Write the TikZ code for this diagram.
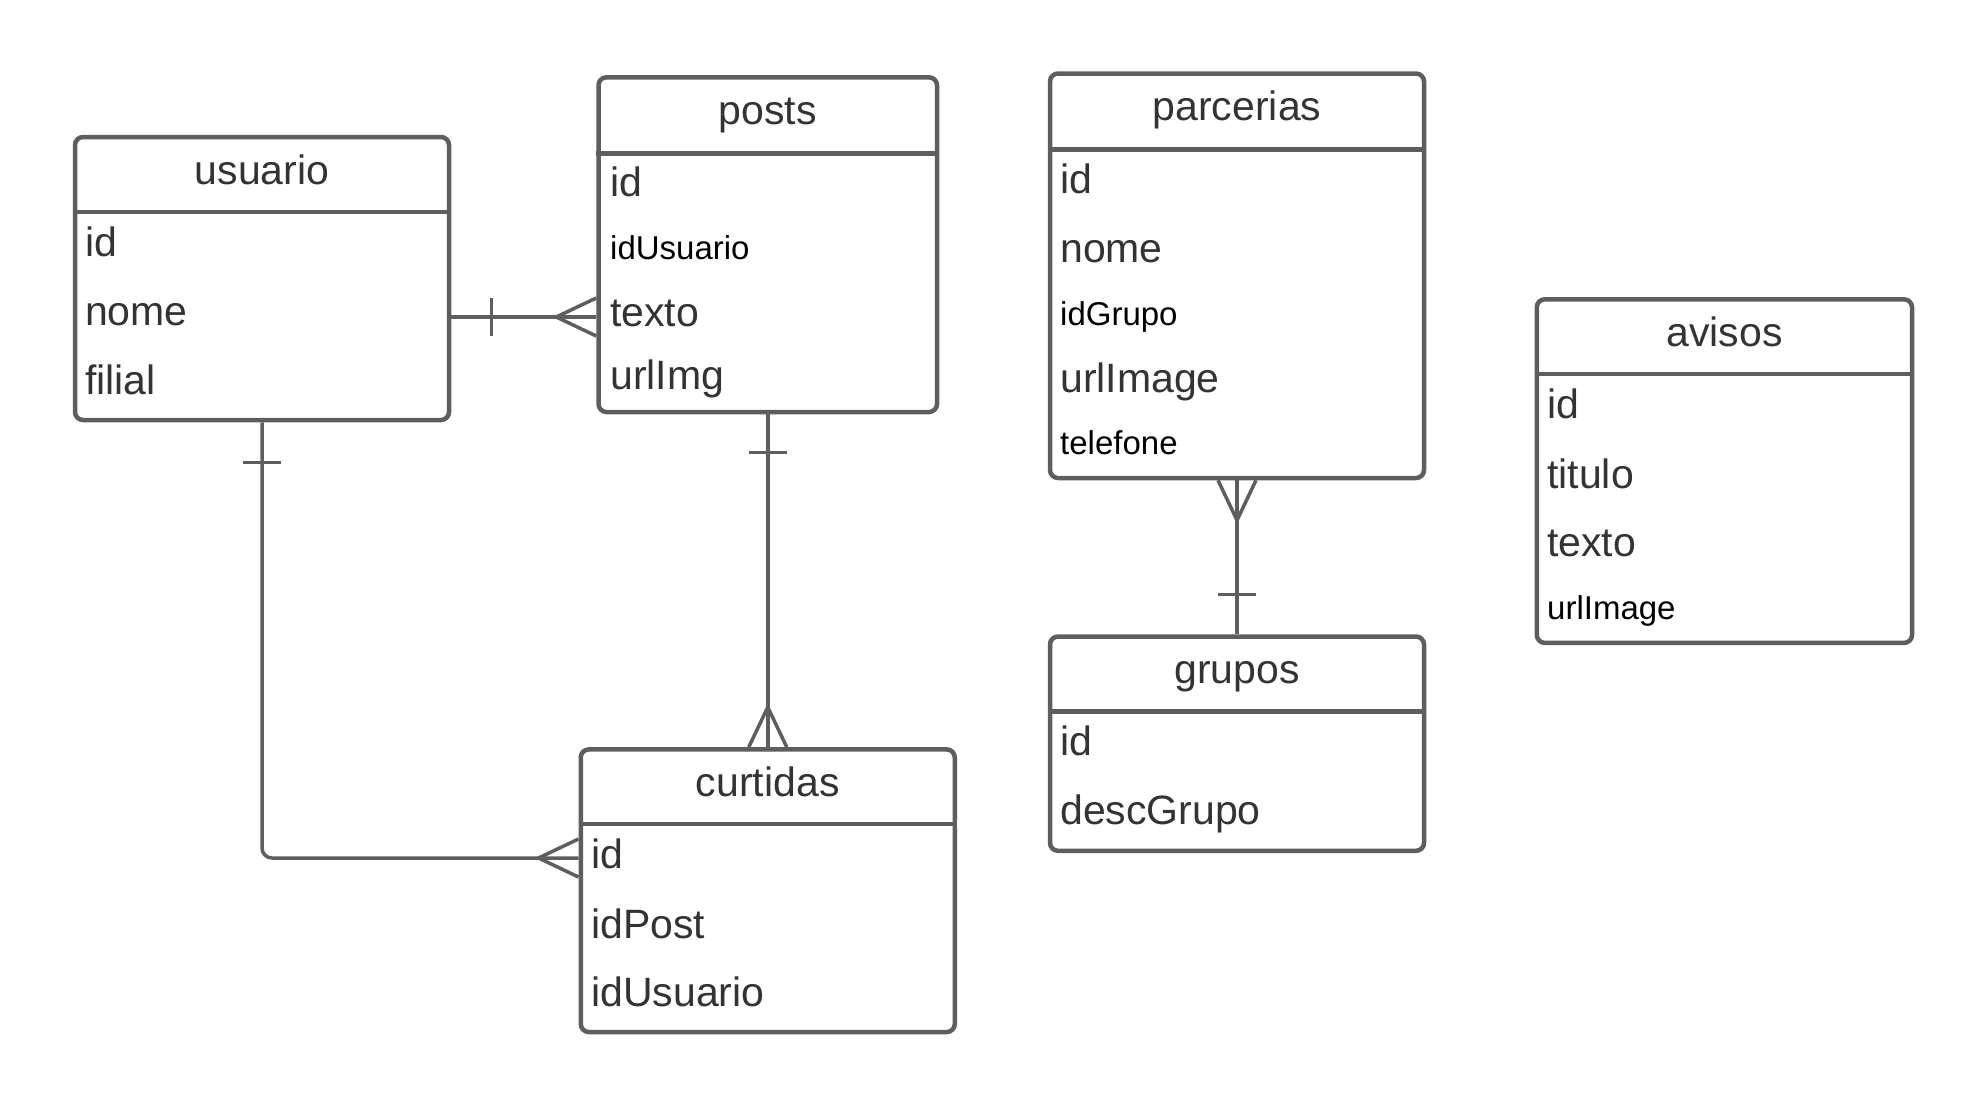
\documentclass[tikz,border=0pt]{standalone}
\usepackage{fontspec}
\setmainfont{Liberation Sans}
\usetikzlibrary{calc}
\definecolor{boxgray}{HTML}{5E5E5E}
\definecolor{textgray}{HTML}{333333}
\tikzset{
  entity/.style={draw=boxgray, line width=4.5pt, rounded corners=8pt, inner sep=0pt},
  headline/.style={draw=boxgray, line width=4.5pt},
  title/.style={anchor=base, text=textgray, font=\fontsize{41}{41}\selectfont, inner sep=0pt},
  field/.style={anchor=base west, text=textgray, font=\fontsize{41}{41}\selectfont, inner sep=0pt},
  smallfield/.style={anchor=base west, text=black, font=\fontsize{33}{33}\selectfont, inner sep=0pt},
  rel/.style={draw=boxgray, line width=3.5pt},
}
\def\crowsfoot(#1)(#2){\draw[rel, shift={(#1)}, rotate=#2] (0,19) -- (-40,0) -- (0,-19);}
\def\onebar(#1)(#2){\draw[rel, shift={(#1)}, rotate=#2] (0,19) -- (0,-19);}

\begin{document}
\begin{tikzpicture}[x=1pt, y=-1pt]
			%%%%% TABLES %%%%%
			\useasboundingbox (0,0) rectangle (1988,1108);
			
			\node[entity, minimum width=374, minimum height=283] (usuario) at (262,278.5) {};
			\draw[headline] (usuario.west |- 0,212) -- (usuario.east |- 0,212);
			\node[title] (usuario-t) at (262,184) {usuario};
			\node[field] (usuario-id) at (85,256) {id};
			\node[field] (usuario-nome) at (85,325.3) {nome};
			\node[field] (usuario-filial) at (85,394) {filial};
			
			\node[entity, minimum width=338.5, minimum height=334.7] (posts) at (767.75,244.65) {};
			\draw[headline] (posts.west |- 0,153.4) -- (posts.east |- 0,153.4);
			\node[title] (posts-t) at (767.75,124.3) {posts};
			\node[field] (posts-id) at (610,196.3) {id};
			\node[smallfield] (posts-idusuario) at (610,259.3) {idUsuario};
			\node[field] (posts-texto) at (610,326.7) {texto};
			\node[field] (posts-urlimg) at (610,389.8) {urlImg};
			
			\node[entity, minimum width=374, minimum height=404.5] (parcerias) at (1237,275.75) {};
			\draw[headline] (parcerias.west |- 0,149.6) -- (parcerias.east |- 0,149.6);
			\node[title] (parcerias-t) at (1237,120.5) {parcerias};
			\node[field] (parcerias-id) at (1060,193.8) {id};
			\node[field] (parcerias-nome) at (1060,262) {nome};
			\node[smallfield] (parcerias-idgrupo) at (1060,325.5) {idGrupo};
			\node[field] (parcerias-urlimage) at (1060,392.4) {urlImage};
			\node[smallfield] (parcerias-telefone) at (1060,454.5) {telefone};
			
			\node[entity, minimum width=375.2, minimum height=343.6] (avisos) at (1724.4,471.1) {};
			\draw[headline] (avisos.west |- 0,374) -- (avisos.east |- 0,374);
			\node[title] (avisos-t) at (1724.4,346.3) {avisos};
			\node[field] (avisos-id) at (1547,418.3) {id};
			\node[field] (avisos-titulo) at (1547,488) {titulo};
			\node[field] (avisos-texto) at (1547,556.2) {texto};
			\node[smallfield] (avisos-urlimage) at (1547,619.6) {urlImage};
			
			\node[entity, minimum width=374, minimum height=214.3] (grupos) at (1237,743.65) {};
			\draw[headline] (grupos.west |- 0,711.3) -- (grupos.east |- 0,711.3);
			\node[title] (grupos-t) at (1237,683.5) {grupos};
			\node[field] (grupos-id) at (1060,755.5) {id};
			\node[field] (grupos-descgrupo) at (1060,824.8) {descGrupo};
			
			\node[entity, minimum width=374, minimum height=282.6] (curtidas) at (767.75,890.7) {};
			\draw[headline] (curtidas.west |- 0,824.2) -- (curtidas.east |- 0,824.2);
			\node[title] (curtidas-t) at (767.75,796.4) {curtidas};
			\node[field] (curtidas-id) at (591,868.4) {id};
			\node[field] (curtidas-idpost) at (591,938) {idPost};
			\node[field] (curtidas-idusuario) at (591,1006.6) {idUsuario};
			
			%%%%% RELATIONS %%%%%
			
			\draw[rel] (usuario.east |- 0,317) -- (posts.west |- 0,317);
			\onebar($(usuario.east |- 0,317)+(40,0)$)(0);
			\crowsfoot(posts.west |- 0,317)(0);
			
			\draw[rel, rounded corners=10pt] (usuario.south) |- (curtidas.west |- 0,858);
			\onebar($(usuario.south)+(0,40)$)(90);
			\crowsfoot(curtidas.west |- 0,858)(0);
			
			\draw[rel] (posts.south) -- (curtidas.north);
			\onebar($(posts.south)+(0,38)$)(90);
			\crowsfoot(curtidas.north)(-90);
			
			\draw[rel] (parcerias.south) -- (grupos.north);
			\crowsfoot(parcerias.south)(90);
			\onebar($(grupos.north)+(0,-40)$)(90);
			
		\end{tikzpicture}
\end{document}
